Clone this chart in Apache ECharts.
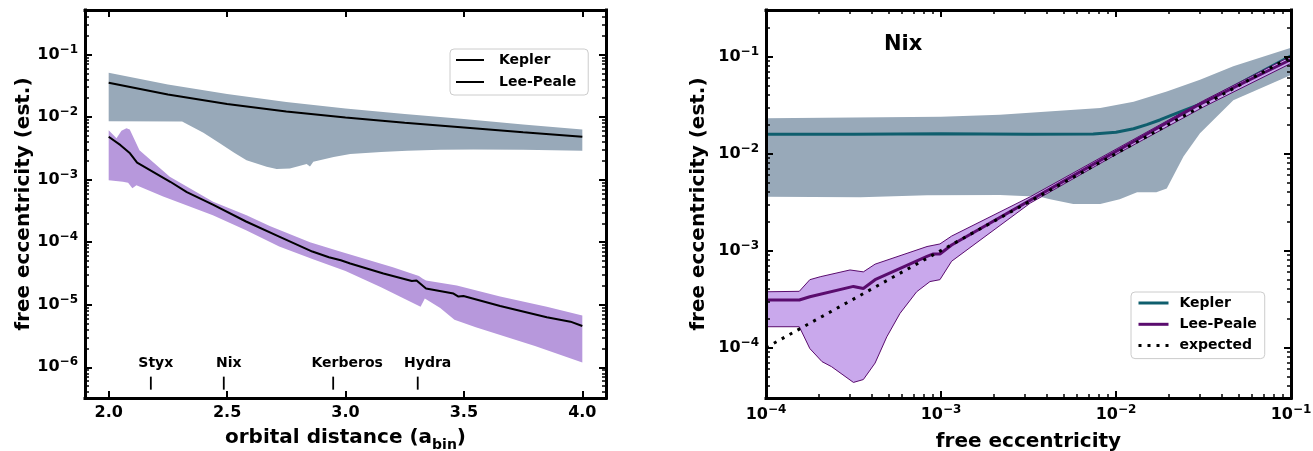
<!DOCTYPE html>
<html><head><meta charset="utf-8">
<script src="https://cdn.jsdelivr.net/npm/echarts@6/dist/echarts.min.js"></script>
<style>html,body{margin:0;padding:0;background:#fff}#c{width:1313px;height:451px}</style>
</head><body><div id="c"></div>
<script>
// ---------------- LEFT PANEL DATA (orbital distance vs free eccentricity) ----------------
const orbitTicks = [2.0, 2.5, 3.0, 3.5, 4.0];
const leftYExponents = [-6, -5, -4, -3, -2, -1];

const keplerX   = [2.0, 2.25, 2.5, 2.75, 3.0, 3.25, 3.5, 3.75, 4.0];
const keplerY   = [0.0352, 0.0229, 0.0162, 0.0123, 0.00986, 0.00813, 0.00682, 0.00569, 0.00483];
const keplerHiX = [2.0, 2.25, 2.5, 2.75, 3.0, 3.25, 3.5, 3.75, 4.0];
const keplerHiY = [0.0508, 0.0331, 0.0234, 0.0174, 0.0137, 0.0112, 0.00933, 0.00759, 0.00634];
const keplerLoX = [2.0, 2.31, 2.40, 2.469, 2.53, 2.582, 2.667, 2.709, 2.765, 2.836, 2.85, 2.864, 2.95, 3.02, 3.15, 3.26, 3.4, 3.54, 3.75, 4.0];
const keplerLoY = [0.00859, 0.00851, 0.00562, 0.00380, 0.00269, 0.00204, 0.00160, 0.00148, 0.00151, 0.00178, 0.00162, 0.00193, 0.00229, 0.00257, 0.00275, 0.00288, 0.00299, 0.00302, 0.00299, 0.00288];

const leeX   = [2.0, 2.05, 2.09, 2.12, 2.26, 2.33, 2.44, 2.58, 2.72, 2.86, 2.93, 2.98, 3.02, 3.16, 3.28, 3.30, 3.34, 3.456, 3.477, 3.498, 3.653, 3.85, 3.95, 4.0];
const leeY   = [4.83e-3, 3.55e-3, 2.63e-3, 1.86e-3, 9.23e-4, 6.31e-4, 3.98e-4, 2.14e-4, 1.23e-4, 7.08e-5, 5.75e-5, 5.13e-5, 4.57e-5, 3.16e-5, 2.40e-5, 2.45e-5, 1.82e-5, 1.51e-5, 1.35e-5, 1.38e-5, 9.55e-6, 6.31e-6, 5.37e-6, 4.57e-6];
const leeHiX = [2.0, 2.033, 2.054, 2.075, 2.089, 2.13, 2.258, 2.441, 2.582, 2.68, 2.85, 2.977, 3.2, 3.31, 3.325, 3.34, 3.47, 3.653, 3.85, 4.0];
const leeHiY = [6.17e-3, 4.57e-3, 6.03e-3, 6.61e-3, 6.31e-3, 2.95e-3, 1.11e-3, 4.42e-4, 2.69e-4, 1.82e-4, 1.0e-4, 7.08e-5, 3.98e-5, 2.88e-5, 2.63e-5, 2.45e-5, 2.04e-5, 1.35e-5, 9.33e-6, 6.76e-6];
const leeLoX = [2.0, 2.06, 2.082, 2.1, 2.117, 2.23, 2.44, 2.58, 2.72, 2.86, 3.0, 3.15, 3.317, 3.335, 3.40, 3.46, 3.55, 3.65, 3.8, 4.0];
const leeLoY = [9.77e-4, 9.23e-4, 8.91e-4, 7.24e-4, 8.13e-4, 5.37e-4, 2.69e-4, 1.55e-4, 8.51e-5, 5.37e-5, 3.47e-5, 1.91e-5, 9.33e-6, 1.26e-5, 8.91e-6, 5.75e-6, 4.37e-6, 3.31e-6, 2.19e-6, 1.20e-6];

const moonNames  = ['Styx', 'Nix', 'Kerberos', 'Hydra'];
const moonA      = [2.178, 2.486, 2.948, 3.305];
const moonLabelA = [2.199, 2.507, 3.007, 3.347];
const moonLabelE = 1.17e-6;
const moonTickE  = [7.1e-7, 4.4e-7];

// ---------------- RIGHT PANEL DATA (Nix: true vs estimated free eccentricity) ----------------
const rightXExponents = [-4, -3, -2, -1];
const rightYExponents = [-4, -3, -2, -1];

const nixKeplerX   = [1e-4, 3.16e-4, 1e-3, 3.16e-3, 7.41e-3, 1e-2, 1.26e-2, 1.5e-2, 1.78e-2, 2.1e-2, 2.51e-2, 3.16e-2, 5.62e-2, 0.1];
const nixKeplerY   = [0.0158, 0.0158, 0.0160, 0.0158, 0.0159, 0.0166, 0.0180, 0.0199, 0.0222, 0.0251, 0.0284, 0.0333, 0.0582, 0.102];
const nixKeplerHiX = [1e-4, 1e-3, 2.17e-3, 8.13e-3, 1.26e-2, 1.95e-2, 3.02e-2, 4.68e-2, 0.1];
const nixKeplerHiY = [0.0231, 0.0240, 0.0251, 0.0295, 0.0343, 0.0437, 0.0575, 0.0794, 0.123];
const nixKeplerLoX = [1e-4, 3.47e-4, 8.32e-4, 2.17e-3, 3.68e-3, 4.2e-3, 5.7e-3, 8.13e-3, 1.05e-2, 1.32e-2, 1.7e-2, 1.95e-2, 2.43e-2, 3.02e-2, 4.68e-2, 0.1];
const nixKeplerLoY = [3.59e-3, 3.55e-3, 3.72e-3, 3.74e-3, 3.59e-3, 3.39e-3, 3.02e-3, 3.02e-3, 3.39e-3, 3.98e-3, 3.98e-3, 4.37e-3, 9.33e-3, 1.62e-2, 3.55e-2, 6.46e-2];

const nixLeeX   = [1e-4, 1.55e-4, 1.78e-4, 3.16e-4, 3.6e-4, 4.2e-4, 8.32e-4, 9.04e-4, 9.86e-4, 1.15e-3, 3.24e-3, 8.13e-3, 3.02e-2, 0.1];
const nixLeeY   = [3.09e-4, 3.09e-4, 3.34e-4, 4.27e-4, 4.07e-4, 5.01e-4, 8.71e-4, 9.23e-4, 9.23e-4, 1.14e-3, 3.31e-3, 8.51e-3, 3.24e-2, 9.33e-2];
const nixLeeHiX = [1e-4, 1.55e-4, 1.78e-4, 2.04e-4, 3.02e-4, 3.6e-4, 4.2e-4, 8.32e-4, 9.86e-4, 1.15e-3, 3.24e-3, 1e-2, 3.16e-2, 0.1];
const nixLeeHiY = [3.76e-4, 3.80e-4, 5.01e-4, 5.37e-4, 6.31e-4, 6.03e-4, 7.24e-4, 1.10e-3, 1.17e-3, 1.41e-3, 3.59e-3, 1.11e-2, 3.51e-2, 0.101];
const nixLeeLoX = [1e-4, 1.55e-4, 1.78e-4, 2.09e-4, 2.37e-4, 3.16e-4, 3.6e-4, 4.2e-4, 4.9e-4, 5.83e-4, 7.26e-4, 8.65e-4, 9.86e-4, 1.15e-3, 3.24e-3, 1e-2, 3.16e-2, 0.1];
const nixLeeLoY = [1.64e-4, 1.64e-4, 9.77e-5, 7.16e-5, 6.35e-5, 4.37e-5, 4.68e-5, 6.92e-5, 1.29e-4, 2.25e-4, 3.76e-4, 4.79e-4, 5.01e-4, 7.76e-4, 3.09e-3, 9.77e-3, 3.02e-2, 8.51e-2];

const expectedX = [1e-4, 0.1];
const expectedY = [1e-4, 0.1];

// ---------------- helpers ----------------
const FONT = 'DejaVu Sans';
const L = Math.log10;
const GRAY = '#98a9b9', PURPLE_L = '#b798dc', PURPLE_R = '#c9a8ec', TEAL = '#0f5e6d', DPURPLE = '#5a0c6e';

function pts(xs, ys, logX) { return xs.map((x, i) => [logX ? L(x) : x, L(ys[i])]); }
function minorLogs(lo, hi) {
  const out = [];
  for (let n = Math.floor(lo) - 1; n <= Math.ceil(hi); n++) for (let k = 2; k <= 9; k++) {
    const v = n + L(k); if (v > lo && v < hi) out.push(v);
  }
  return out;
}
function band(xi, yi, hiX, hiY, loX, loY, logX, fill, stroke, z) {
  const poly = pts(hiX, hiY, logX).concat(pts(loX, loY, logX).reverse());
  return {
    type: 'custom', xAxisIndex: xi, yAxisIndex: yi, z: z, silent: true, clip: true,
    data: [poly[0]],
    renderItem: (params, api) => ({
      type: 'polygon',
      shape: { points: poly.map(p => api.coord(p)) },
      style: { fill: fill, stroke: stroke || 'none', lineWidth: stroke ? 1 : 0 }
    })
  };
}
function line(name, xi, yi, xs, ys, logX, color, width, type, z) {
  return {
    type: 'line', name: name, xAxisIndex: xi, yAxisIndex: yi, data: pts(xs, ys, logX),
    symbol: 'none', silent: true, z: z,
    itemStyle: { color: color },
    lineStyle: { color: color, width: width, type: type || 'solid' }
  };
}
const supRich = {
  b: { fontSize: 16, fontWeight: 'bold', fontFamily: FONT, color: '#000', lineHeight: 22 },
  s: { fontSize: 12, fontWeight: 'bold', fontFamily: FONT, color: '#000', verticalAlign: 'top', lineHeight: 12 }
};
const supFmt = v => '{b|10}{s|\u2212' + Math.round(-v) + '}';
const frame = { show: true, onZero: false, lineStyle: { color: '#000', width: 3, cap: 'square' } };
const noLine = { show: false, onZero: false };

function majorAxis(grid, pos, min, max, ticks, labelOpt, extra) {
  return Object.assign({
    type: 'value', gridIndex: grid, position: pos, min: min, max: max, z: 10,
    axisLine: frame, splitLine: { show: false }, axisPointer: { show: false },
    axisTick: { show: true, inside: true, length: 7, customValues: ticks, lineStyle: { color: '#000', width: 2 } },
    axisLabel: labelOpt ? Object.assign({ show: true, customValues: ticks, hideOverlap: false }, labelOpt) : { show: false }
  }, extra || {});
}
function minorAxis(grid, pos, min, max, ticks) {
  return {
    type: 'value', gridIndex: grid, position: pos, min: min, max: max, z: 10,
    axisLine: noLine, splitLine: { show: false }, axisPointer: { show: false },
    axisTick: { show: true, inside: true, length: 4, customValues: ticks, lineStyle: { color: '#000', width: 1.5 } },
    axisLabel: { show: false }
  };
}
const titleStyle = { fontSize: 20, fontWeight: 'bold', fontFamily: FONT, color: '#000' };

// axis ranges
const LX = [1.9, 4.1], LY = [-6.49, -0.29];
const RX = [-4, -1], RY = [-4.52, -0.52];
const leftYMinor = minorLogs(LY[0], LY[1]);
const rightXMinor = minorLogs(RX[0], RX[1]);
const rightYMinor = minorLogs(RY[0], RY[1]);

const legendBase = {
  orient: 'vertical', selectedMode: false, itemHeight: 14,
  backgroundColor: 'rgba(255,255,255,0.8)', borderColor: '#cccccc', borderWidth: 1, borderRadius: 4,
  itemStyle: { opacity: 0 },
  textStyle: { fontSize: 14, fontWeight: 'bold', fontFamily: FONT, color: '#000', lineHeight: 14 }
};

const chart = echarts.init(document.getElementById('c'), null, { renderer: 'canvas' });
chart.setOption({
  animation: false,
  backgroundColor: '#fff',
  textStyle: { fontFamily: FONT },
  grid: [
    { left: 85, top: 10, width: 521, height: 388, containLabel: false, outerBoundsMode: 'none' },
    { left: 766, top: 10, width: 525, height: 388, containLabel: false, outerBoundsMode: 'none' }
  ],
  xAxis: [
    majorAxis(0, 'bottom', LX[0], LX[1], orbitTicks,
      { margin: 7, formatter: v => v.toFixed(1), fontSize: 16, fontWeight: 'bold', color: '#000', fontFamily: FONT },
      { name: '{n|orbital distance (a}{sub|bin}{n|)}', nameLocation: 'middle', nameGap: 26,
        nameTextStyle: { rich: { n: Object.assign({ lineHeight: 28 }, titleStyle),
          sub: { fontSize: 14, fontWeight: 'bold', fontFamily: FONT, color: '#000', verticalAlign: 'bottom', lineHeight: 14 } } } }),
    majorAxis(0, 'top', LX[0], LX[1], orbitTicks, null),
    majorAxis(1, 'bottom', RX[0], RX[1], rightXExponents,
      { margin: 6, formatter: supFmt, rich: supRich },
      { name: 'free eccentricity', nameLocation: 'middle', nameGap: 34, nameTextStyle: titleStyle }),
    majorAxis(1, 'top', RX[0], RX[1], rightXExponents, null),
    minorAxis(1, 'bottom', RX[0], RX[1], rightXMinor),
    minorAxis(1, 'top', RX[0], RX[1], rightXMinor)
  ],
  yAxis: [
    majorAxis(0, 'left', LY[0], LY[1], leftYExponents,
      { margin: 7, formatter: supFmt, rich: supRich },
      { name: 'free eccentricity (est.)', nameLocation: 'middle', nameGap: 51, nameTextStyle: titleStyle }),
    majorAxis(0, 'right', LY[0], LY[1], leftYExponents, null),
    minorAxis(0, 'left', LY[0], LY[1], leftYMinor),
    minorAxis(0, 'right', LY[0], LY[1], leftYMinor),
    majorAxis(1, 'left', RY[0], RY[1], rightYExponents,
      { margin: 7, formatter: supFmt, rich: supRich },
      { name: 'free eccentricity (est.)', nameLocation: 'middle', nameGap: 57, nameTextStyle: titleStyle }),
    majorAxis(1, 'right', RY[0], RY[1], rightYExponents, null),
    minorAxis(1, 'left', RY[0], RY[1], rightYMinor),
    minorAxis(1, 'right', RY[0], RY[1], rightYMinor)
  ],
  legend: [
    Object.assign({}, legendBase, {
      data: ['Kepler', 'Lee-Peale'], left: 450, top: 49,
      itemWidth: 28, itemGap: 8, padding: [4, 12, 6, 5],
      lineStyle: { width: 2 },
      textStyle: Object.assign({}, legendBase.textStyle, { padding: [0, 0, 0, 10] })
    }),
    Object.assign({}, legendBase, {
      data: ['Nix Kepler', 'Nix Lee-Peale', 'Nix expected'], left: 1131, top: 292,
      itemWidth: 30, itemGap: 7.3, padding: [4, 8, 6, 6],
      lineStyle: { width: 3 },
      formatter: n => n.replace('Nix ', ''),
      textStyle: Object.assign({}, legendBase.textStyle, { padding: [0, 0, 0, 6] })
    })
  ],
  graphic: [
    { type: 'text', left: 884, top: 34, z: 20, style: { text: 'Nix', font: 'bold 21px "DejaVu Sans"', fill: '#000' } }
  ],
  series: [
    // left panel
    band(0, 0, keplerHiX, keplerHiY, keplerLoX, keplerLoY, false, GRAY, null, 1),
    band(0, 0, leeHiX, leeHiY, leeLoX, leeLoY, false, PURPLE_L, null, 1),
    line('Kepler', 0, 0, keplerX, keplerY, false, '#000', 2, 'solid', 3),
    line('Lee-Peale', 0, 0, leeX, leeY, false, '#000', 2, 'solid', 3),
    {
      type: 'custom', xAxisIndex: 0, yAxisIndex: 0, z: 4, silent: true, clip: false,
      data: moonA.map((a, i) => [a, L(moonLabelE)]),
      renderItem: (params, api) => {
        const i = params.dataIndex;
        const p1 = api.coord([moonA[i], L(moonTickE[0])]);
        const p2 = api.coord([moonA[i], L(moonTickE[1])]);
        const pt = api.coord([moonLabelA[i], L(moonLabelE)]);
        return { type: 'group', children: [
          { type: 'line', shape: { x1: p1[0], y1: p1[1], x2: p2[0], y2: p2[1] }, style: { stroke: '#000', lineWidth: 1.8 } },
          { type: 'text', style: { text: moonNames[i], x: pt[0], y: pt[1], align: 'center', verticalAlign: 'middle',
              font: 'bold 14px "DejaVu Sans"', fill: '#000' } }
        ] };
      }
    },
    // right panel
    band(2, 4, nixKeplerHiX, nixKeplerHiY, nixKeplerLoX, nixKeplerLoY, true, GRAY, null, 1),
    line('Nix Kepler', 2, 4, nixKeplerX, nixKeplerY, true, TEAL, 3, 'solid', 2),
    band(2, 4, nixLeeHiX, nixLeeHiY, nixLeeLoX, nixLeeLoY, true, PURPLE_R, DPURPLE, 3),
    line('Nix Lee-Peale', 2, 4, nixLeeX, nixLeeY, true, DPURPLE, 3, 'solid', 4),
    line('Nix expected', 2, 4, expectedX, expectedY, true, '#000', 3, [3, 6], 5)
  ]
});
</script></body></html>
